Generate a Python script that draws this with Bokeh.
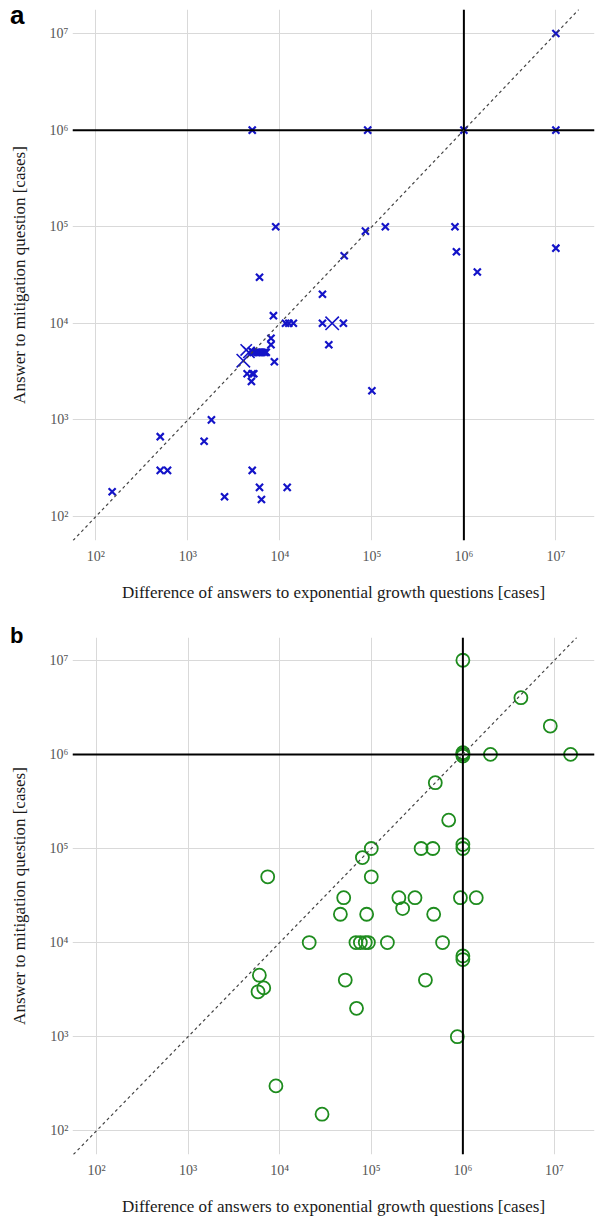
from bokeh.plotting import figure
from bokeh.models import Range1d, FixedTicker, Span, Slope, Div
from bokeh.layouts import column
from bokeh.embed import file_html
from bokeh.resources import INLINE

# ---------------- data ----------------
tick_values = [1e2, 1e3, 1e4, 1e5, 1e6, 1e7]
tick_labels = ["10²", "10³", "10⁴", "10⁵", "10⁶", "10⁷"]

x_title = "Difference of answers to exponential growth questions [cases]"
y_title = "Answer to mitigation question [cases]"

# panel a (x markers); count = number of coinciding answers
a_x = [1e7, 5000, 9e4, 1e6, 1e7,
       9000, 8.5e4, 1.4e5, 8e5, 8.3e5, 1.4e6, 1e7,
       6000, 5e4, 2.9e4, 2.9e4, 3.7e4, 4.9e4, 3.4e4, 1e5,
       8500, 1.15e4, 1.25e4, 1.4e4, 8000, 8000, 8700,
       4000, 4300, 4600, 4900, 5100, 5400, 5700, 6000, 6400, 6800, 7100,
       4400, 5000, 5200, 4900,
       150, 500, 500, 600, 1500, 1800, 5000, 2500, 6000, 6300, 1.2e4]
a_y = [1e7, 1e6, 1e6, 1e6, 1e6,
       1e5, 9e4, 1e5, 1e5, 5.5e4, 3.4e4, 6e4,
       3e4, 5e4, 2e4, 1e4, 1e4, 1e4, 6000, 2000,
       1.2e4, 1e4, 1e4, 1e4, 7000, 6000, 4000,
       4100, 5300, 5000, 5200, 5000, 5000, 5000, 5000, 5000, 5000, 5000,
       3000, 3000, 3000, 2500,
       180, 670, 300, 300, 600, 1000, 300, 160, 200, 150, 200]
a_count = [1, 1, 1, 1, 1,
           1, 1, 1, 1, 1, 1, 1,
           1, 1, 1, 1, 3, 1, 1, 1,
           1, 1, 1, 1, 1, 1, 1,
           3, 2, 2, 1, 1, 1, 1, 1, 1, 1, 1,
           1, 1, 1, 1,
           1, 1, 1, 1, 1, 1, 1, 1, 1, 1, 1]

# panel b (circles)
b_x = [1e6, 4.3e6, 9e6, 1e6, 1e6, 1e6, 2e6, 1.5e7, 5e5, 7e5,
       1e5, 8e4, 3.5e5, 4.7e5, 1e6, 1e6,
       7.4e3, 1e5, 5e4, 2e5, 3e5, 2.2e5, 4.6e4, 8.9e4, 4.8e5, 9.4e5, 1.4e6,
       2.1e4, 6.8e4, 7.6e4, 8.6e4, 9.3e4, 1.5e5, 6e5, 1e6, 1e6,
       6000, 6700, 5800, 5.2e4, 3.9e5, 6.9e4, 8.7e5, 9100, 2.9e4]
b_y = [1e7, 4e6, 2e6, 1e6, 9.6e5, 1.04e6, 1e6, 1e6, 5e5, 2e5,
       1e5, 8e4, 1e5, 1e5, 1.1e5, 1e5,
       5e4, 5e4, 3e4, 3e4, 3e4, 2.3e4, 2e4, 2e4, 2e4, 3e4, 3e4,
       1e4, 1e4, 1e4, 1e4, 1e4, 1e4, 1e4, 7200, 6600,
       4500, 3300, 3000, 4000, 4000, 2000, 1000, 300, 150]

SERIF = "Liberation Serif"


def make_panel(xlog, ylog, height, top, bottom, right):
    p = figure(width=598, height=height, x_axis_type="log", y_axis_type="log",
               x_range=Range1d(10 ** xlog[0], 10 ** xlog[1]),
               y_range=Range1d(10 ** ylog[0], 10 ** ylog[1]),
               output_backend="svg", toolbar_location=None,
               min_border_left=72, min_border_right=right,
               min_border_top=top, min_border_bottom=bottom)
    p.outline_line_color = None
    p.background_fill_color = "white"
    p.border_fill_alpha = 0
    for ax in (p.xaxis[0], p.yaxis[0]):
        ax.ticker = FixedTicker(ticks=tick_values, minor_ticks=[])
        ax.major_label_overrides = dict(zip(tick_values, tick_labels))
        ax.axis_line_color = None
        ax.major_tick_line_color = None
        ax.minor_tick_line_color = None
        ax.major_tick_out = 0
        ax.minor_tick_out = 0
        ax.major_label_text_font = SERIF
        ax.major_label_text_font_size = "14px"
        ax.major_label_text_color = "#555555"
        ax.axis_label_text_font = SERIF
        ax.axis_label_text_font_size = "17px"
        ax.axis_label_text_font_style = "normal"
        ax.axis_label_text_color = "#1a1a1a"
    p.xaxis.axis_label = x_title
    p.yaxis.axis_label = y_title
    p.xaxis.major_label_standoff = 8
    p.xaxis.axis_label_standoff = 16
    p.yaxis.major_label_standoff = 4
    p.yaxis.axis_label_standoff = 18
    p.grid.grid_line_color = "#d9d9d9"
    p.grid.grid_line_width = 1
    p.xgrid.ticker = FixedTicker(ticks=tick_values, minor_ticks=[])
    p.ygrid.ticker = FixedTicker(ticks=tick_values, minor_ticks=[])

    p.add_layout(Span(location=1e6, dimension="height", line_color="black", line_width=2))
    p.add_layout(Span(location=1e6, dimension="width", line_color="black", line_width=2))
    p.add_layout(Slope(gradient=1, y_intercept=0, line_color="#444444",
                       line_width=1.2, line_dash="3 3"))
    return p


def letter_div(letter, size, top):
    return Div(text=letter, width=40, height=30, margin=(top, 0, -(top + 30), 10),
               styles={"font-family": "Liberation Sans", "font-size": size,
                       "font-weight": "bold", "line-height": "1", "color": "black"})


pa = make_panel((1.745, 7.42), (1.751, 7.249), 605, 9, 65, 0)
sizes_a = [10 if c == 1 else 10 + 3 * c for c in a_count]
widths_a = [2.2 if c == 1 else 1.6 for c in a_count]
pa.scatter(a_x, a_y, marker="x", size=sizes_a, line_color="#1414c8",
           line_width=widths_a)

pb = make_panel((1.738, 7.437), (1.748, 7.242), 613, 32, 59, 4)
pb.scatter(b_x, b_y, marker="circle", size=13, fill_color=None,
           line_color="#1e8c1e", line_width=1.8)

layout = column(letter_div("a", "26px", 2), pa, letter_div("b", "22px", 20), pb, spacing=0)
open("out.html", "w").write(file_html(layout, INLINE))
